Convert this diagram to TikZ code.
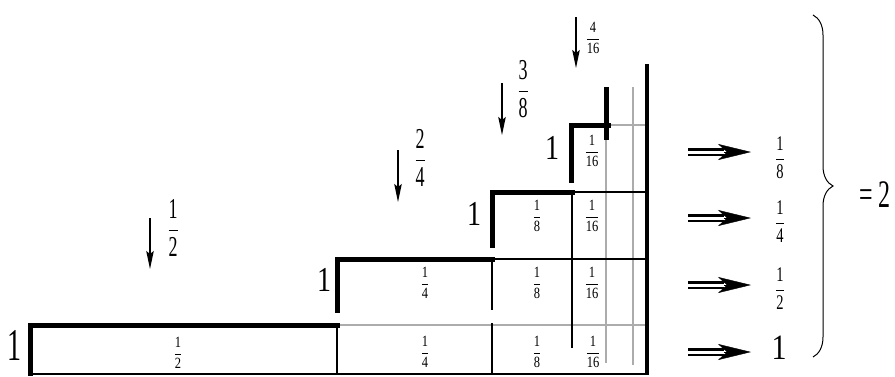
\documentclass[tikz,border=0pt]{standalone}
\usepackage{amsmath}
\usepackage{fontspec}
\setmainfont{Liberation Serif}
\usetikzlibrary{arrows.meta,decorations.pathreplacing}
\newcommand{\fr}[2]{$\dfrac{\text{#1}}{\text{#2}}$}
\begin{document}
\begin{tikzpicture}[x=1pt,y=-1pt,
  tx/.style={inner sep=0pt, yscale=1.25},
  cellfr/.style={tx, font=\fontsize{12.5}{14}\selectfont},
  bigfr/.style={tx, yscale=1.28, font=\fontsize{18}{20}\selectfont},
  sidefr/.style={tx, yscale=1.15, font=\fontsize{14.5}{16}\selectfont},
  one/.style={tx, font=\fontsize{28}{30}\selectfont},
  thick stair/.style={line width=5pt, line cap=rect, line join=miter},
  thinblack/.style={line width=1.3pt},
  thingrey/.style={line width=1.1pt, gray!65},
  downarrow/.style={line width=1.3pt, -{Stealth[length=18pt,width=7.5pt,inset=3pt]}},
  dshaft/.style={double, line width=2.4pt, double distance=3pt},
  dhead/.style={line width=0.4pt, -{Stealth[length=33pt,width=16pt,inset=9pt]}}
]
\useasboundingbox (0,0) rectangle (895,376);

% ---- thin grid lines ----
\draw[thingrey] (337,325) -- (647,325);
\draw[thingrey] (606,125) -- (647,125);
\draw[thingrey] (606,140) -- (606,363);
\draw[thingrey] (633,87) -- (633,365);
\draw[thinblack] (492,259) -- (647,259);
\draw[thinblack] (572,192) -- (647,192);
\draw[thinblack] (337,325) -- (337,374);
\draw[thinblack] (492,259) -- (492,310);
\draw[thinblack] (492,323) -- (492,374);
\draw[thinblack] (572,192) -- (572,348);
\draw[line width=1.5pt] (30,374) -- (647,374);
\draw[line width=3.5pt] (647,64) -- (647,375);

% ---- thick staircase ----
\draw[thick stair] (30,373) -- (30,325) -- (337,325);
\draw[thick stair] (337,310) -- (337,259) -- (492,259);
\draw[thick stair] (492,245) -- (492,192) -- (572,192);
\draw[thick stair] (571,180) -- (571,125) -- (608,125);
\draw[line width=5pt] (606,140) -- (606,87);

% ---- "1" labels ----
\node[one, yscale=1.3] (one1) at (15,345) {1};
\node[one] (one2) at (324,280) {1};
\node[one] (one3) at (474,214) {1};
\node[one] (one4) at (552,148) {1};

% ---- cell fractions ----
\node[cellfr] (r1c1) at (178,353) {\fr{1}{2}};
\node[cellfr] (r1c2) at (425,352) {\fr{1}{4}};
\node[cellfr] (r1c3) at (537,352) {\fr{1}{8}};
\node[cellfr] (r1c4) at (593,352) {\fr{1}{16}};
\node[cellfr] (r2c2) at (425,283) {\fr{1}{4}};
\node[cellfr] (r2c3) at (537,283) {\fr{1}{8}};
\node[cellfr] (r2c4) at (592,283) {\fr{1}{16}};
\node[cellfr] (r3c3) at (537,216) {\fr{1}{8}};
\node[cellfr] (r3c4) at (592,216) {\fr{1}{16}};
\node[cellfr] (r4c4) at (592,151) {\fr{1}{16}};

% ---- down arrows with fractions ----
\coordinate (d1s) at (150,218); \coordinate (d1e) at (150,269);
\coordinate (d2s) at (398,150); \coordinate (d2e) at (398,202);
\coordinate (d3s) at (502,83);  \coordinate (d3e) at (502,135);
\coordinate (d4s) at (576,17);  \coordinate (d4e) at (576,68);
\draw[downarrow] (d1s) -- (d1e);
\draw[downarrow] (d2s) -- (d2e);
\draw[downarrow] (d3s) -- (d3e);
\draw[downarrow] (d4s) -- (d4e);
\node[bigfr] (f1) at (173,228) {\fr{1}{2}};
\node[bigfr] (f2) at (420,158) {\fr{2}{4}};
\node[bigfr] (f3) at (523,89) {\fr{3}{8}};
\node[cellfr] (f4) at (593,38) {\fr{4}{16}};

% ---- right double arrows ----
\foreach \i/\y in {1/152,2/218,3/285,4/352}{
  \coordinate (ra\i s) at (688,\y);
  \coordinate (ra\i m) at (724,\y);
  \coordinate (ra\i e) at (751,\y);
  \draw[dshaft] (ra\i s) -- (ra\i m);
  \draw[dhead] (ra\i m) -- (ra\i e);
}
\node[sidefr] (s1) at (780,158) {\fr{1}{8}};
\node[sidefr] (s2) at (780,222) {\fr{1}{4}};
\node[sidefr] (s3) at (780,289) {\fr{1}{2}};
\node[tx, yscale=0.95, font=\fontsize{30}{32}\selectfont] (s4) at (779,348) {1};

% ---- brace and sum ----
\coordinate (br1) at (813,15);
\coordinate (br2) at (813,357);
\draw[line width=1pt, decorate, decoration={brace, amplitude=20pt}] (br1) -- (br2);
\node[tx, yscale=1.3, font=\fontsize{24}{26}\selectfont] (sum) at (875,195) {= 2};
\end{tikzpicture}
\end{document}
